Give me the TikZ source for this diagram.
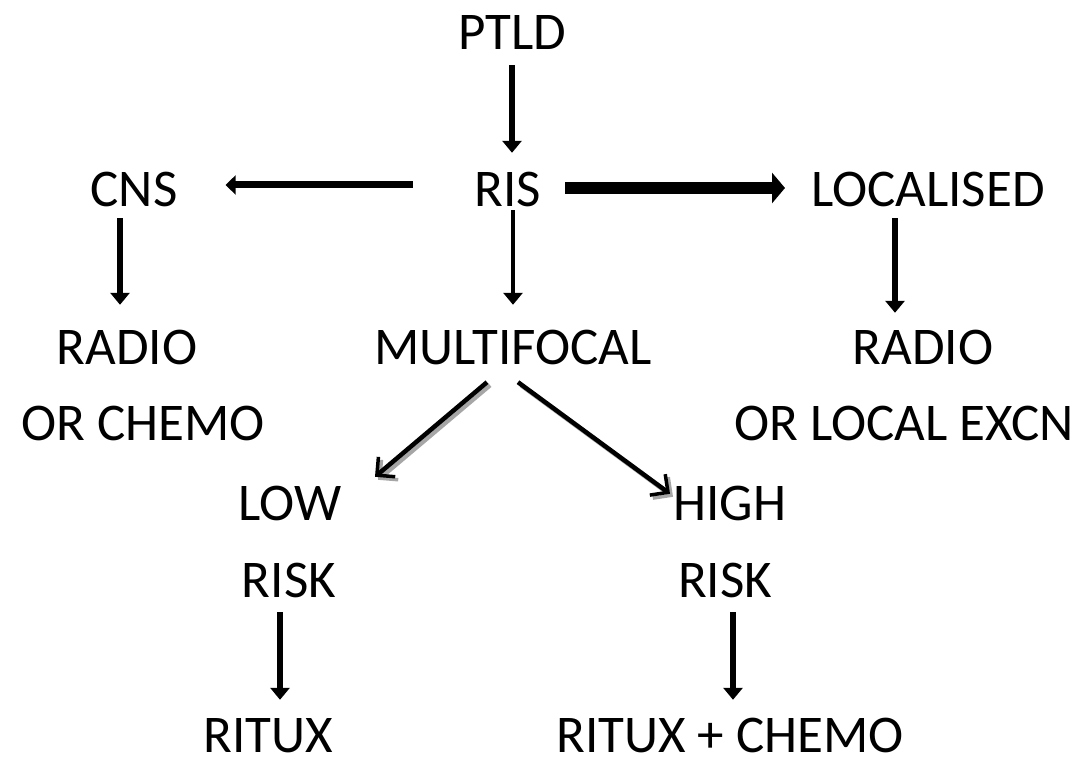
\documentclass[tikz,border=0pt]{standalone}
\usepackage{fontspec}
\setmainfont{Carlito}
\usetikzlibrary{arrows.meta}
\begin{document}
\begin{tikzpicture}[x=1pt,y=1pt,
  lbl/.style={anchor=base,inner sep=0pt,text height=34pt,text depth=0pt,
    font=\fontsize{53}{60}\selectfont},
  varr/.style={line width=5.5pt,-{Triangle[length=12pt,width=19pt]}},
  harr/.style={line width=7pt,-{Triangle[length=10pt,width=19pt]}},
  barr/.style={line width=12pt,-{Triangle[length=13pt,width=30pt]}},
  oarr/.style={line width=4.5pt,-{Straight Barb[length=13pt,width=26pt,line width=3.5pt]}},
  sarr/.style={line width=4.5pt,draw=black!35,-{Straight Barb[length=13pt,width=26pt,line width=3.5pt]},
    transform canvas={shift={(3pt,-3pt)}}}]
\useasboundingbox (0,0) rectangle (1083,762);
\fill[white] (0,0) rectangle (1083,762);
\node[lbl] (ptld) at (512,712) {PTLD};
\node[lbl] (ris) at (508,555) {RIS};
\node[lbl] (cns) at (134,555) {CNS};
\node[lbl] (loc) at (928,555) {LOCALISED};
\node[lbl] (radl) at (127,397) {RADIO};
\node[lbl] (mf) at (513,397) {MULTIFOCAL};
\node[lbl] (radr) at (923,397) {RADIO};
\node[lbl] (orc) at (143,321) {OR CHEMO};
\node[lbl] (orl) at (904,321) {OR LOCAL EXCN};
\node[lbl] (low) at (290,241) {LOW};
\node[lbl] (high) at (730,241) {HIGH};
\node[lbl] (riskl) at (289,164) {RISK};
\node[lbl] (riskr) at (725,164) {RISK};
\node[lbl] (ritux) at (268,9) {RITUX};
\node[lbl] (rc) at (730,9) {RITUX + CHEMO};
% vertical arrows
\draw[varr,shorten <=15pt,shorten >=20pt] (ptld.south) -- (ptld.south |- ris.north);
\draw[varr,line width=4.5pt,shorten <=3pt,shorten >=26pt] (ris.south -| mf.north) -- (mf.north);
\draw[varr,shorten <=11pt,shorten >=26pt] ([xshift=-14pt]cns.south) -- ([xshift=-14pt]cns.south |- radl.north);
\draw[varr,shorten <=11pt,shorten >=18pt] ([xshift=-33pt]loc.south) -- ([xshift=-33pt]loc.south |- radr.north);
\draw[varr,shorten <=14pt,shorten >=19pt] ([xshift=-9pt]riskl.south) -- ([xshift=-9pt]riskl.south |- ritux.north);
\draw[varr,shorten <=14pt,shorten >=19pt] ([xshift=8pt]riskr.south) -- ([xshift=8pt]riskr.south |- rc.north);
% horizontal arrows
\draw[harr,shorten <=62pt,shorten >=48pt] ([yshift=5pt]ris.west) -- ([yshift=5pt]ris.west -| cns.east);
\draw[barr,shorten <=24pt,shorten >=26pt] ([yshift=2pt]ris.east) -- ([yshift=2pt]ris.east -| loc.west);
% diagonal arrows with shadow
\draw[sarr] ([shift={(-26pt,-17pt)}]mf.south) -- ([shift={(85pt,10pt)}]low.north);
\draw[oarr] ([shift={(-26pt,-17pt)}]mf.south) -- ([shift={(85pt,10pt)}]low.north);
\draw[sarr] ([shift={(5pt,-17pt)}]mf.south) -- ([shift={(-60pt,-7pt)}]high.north);
\draw[oarr] ([shift={(5pt,-17pt)}]mf.south) -- ([shift={(-60pt,-7pt)}]high.north);
\end{tikzpicture}
\end{document}
